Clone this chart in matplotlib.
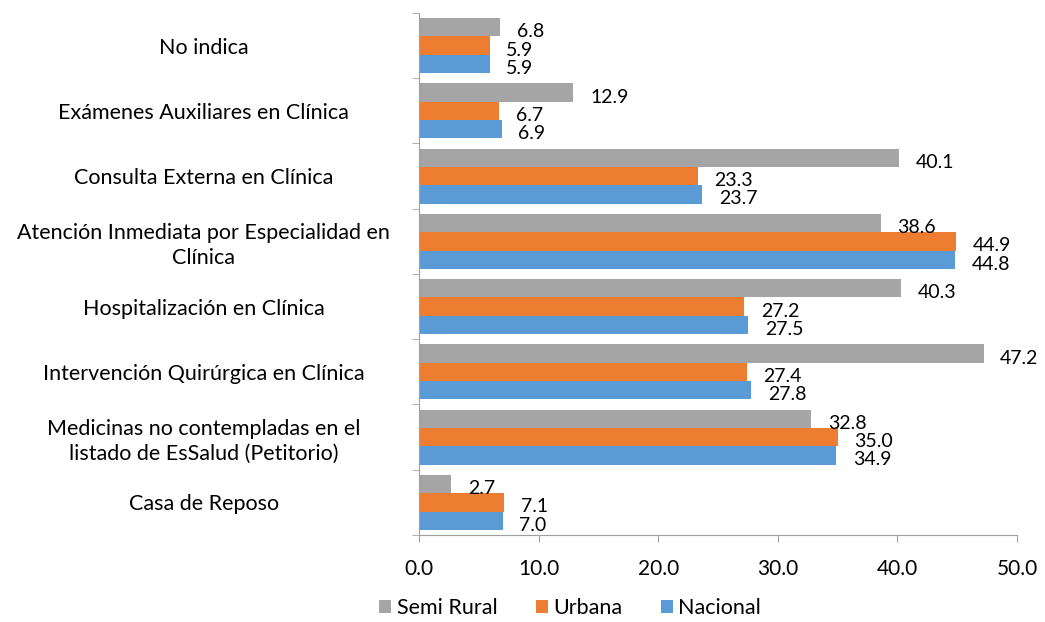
import matplotlib.pyplot as plt
import numpy as np

plt.rcParams['font.family'] = ['Lato', 'DejaVu Sans']

categorias = ["No indica",
              "Exámenes Auxiliares en Clínica",
              "Consulta Externa en Clínica",
              "Atención Inmediata por Especialidad en\nClínica",
              "Hospitalización en Clínica",
              "Intervención Quirúrgica en Clínica",
              "Medicinas no contempladas en el\nlistado de EsSalud (Petitorio)",
              "Casa de Reposo"]
semi_rural = [6.8, 12.9, 40.1, 38.6, 40.3, 47.2, 32.8, 2.7]
urbana = [5.9, 6.7, 23.3, 44.9, 27.2, 27.4, 35.0, 7.1]
nacional = [5.9, 6.9, 23.7, 44.8, 27.5, 27.8, 34.9, 7.0]

series = [("Semi Rural", semi_rural, "#A5A5A5"),
          ("Urbana", urbana, "#ED7D31"),
          ("Nacional", nacional, "#5B9BD5")]

fig = plt.figure(figsize=(10.45, 6.22), dpi=100)
ax = fig.add_axes([419 / 1045, 1 - 535 / 622, (1017 - 419) / 1045, (535 - 13) / 622])

n = len(categorias)
pos = np.arange(n)
h = 0.28
for i, (nombre, vals, color) in enumerate(series):
    y = pos + (i - 1) * h
    ax.barh(y, vals, height=h, color=color, label=nombre)
    for yy, v in zip(y, vals):
        ax.text(v + 1.4, yy + 0.07, f"{v:.1f}", va="center", ha="left", fontsize=14)

ax.set_ylim(n - 0.5, -0.5)
ax.set_xlim(0, 50)
ax.set_xticks(np.arange(0, 51, 10))
ax.set_xticklabels([f"{t:.1f}" for t in np.arange(0, 51, 10)], fontsize=15)
ax.set_yticks(pos)
ax.set_yticklabels(categorias, fontsize=15.5, ha="center", multialignment="center",
                   linespacing=1.3)
ax.tick_params(axis="y", length=0, pad=155)
ax.set_yticks(np.arange(-0.5, n, 1), minor=True)
ax.tick_params(axis="y", which="minor", length=5, color="#A0A0A0")
ax.tick_params(axis="x", length=5, color="#A0A0A0", pad=12)
for s in ["top", "right"]:
    ax.spines[s].set_visible(False)
ax.spines["left"].set_color("#A0A0A0")
ax.spines["bottom"].set_color("#A0A0A0")

ax.legend(loc="center", bbox_to_anchor=(0.253, -0.14), ncol=3, frameon=False,
          fontsize=15.5, handlelength=0.55, handleheight=0.55, columnspacing=1.8,
          handletextpad=0.25, borderpad=0.2)

fig.savefig("out.png", dpi=100)
